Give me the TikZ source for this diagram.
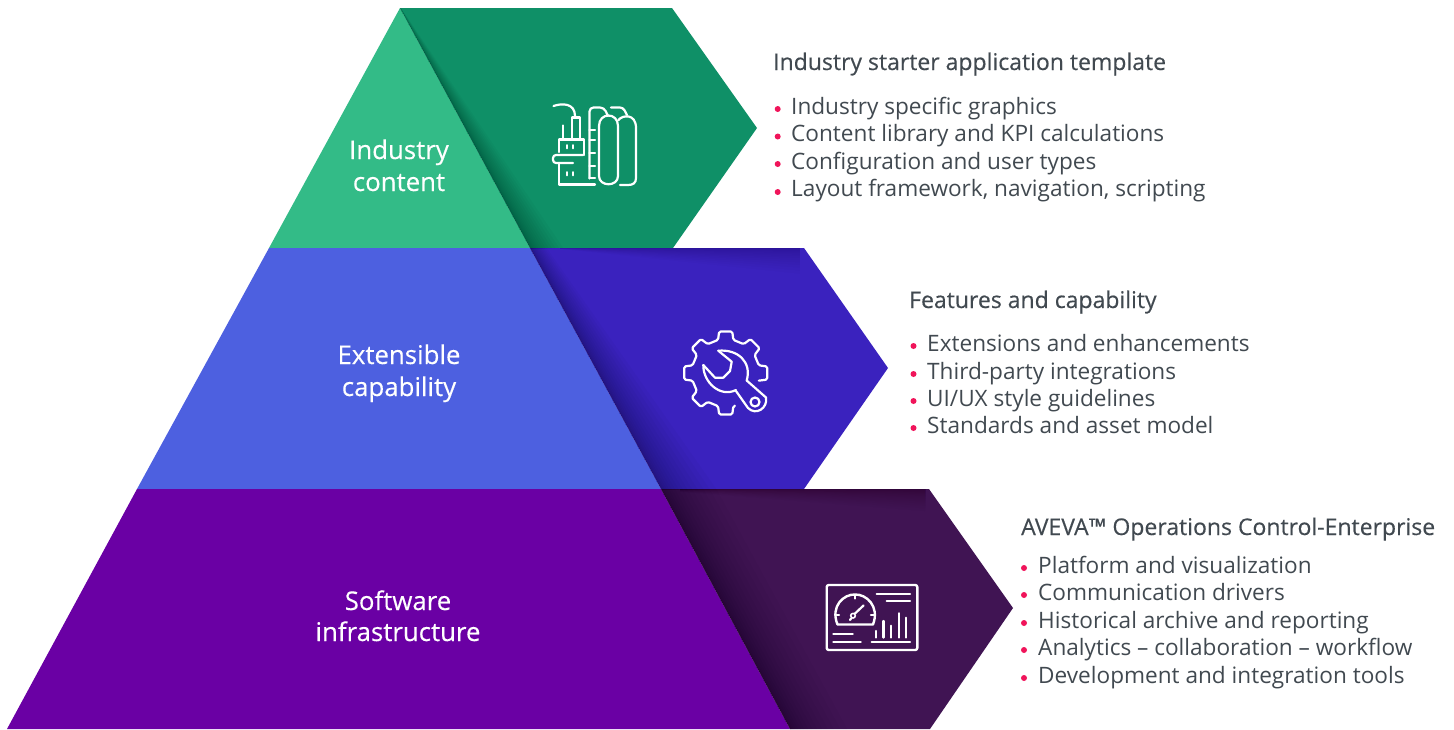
\documentclass[tikz,border=0pt]{standalone}
\usepackage{fontspec}
\setmainfont{Open Sans}
\newfontfamily\titlefont[FakeBold=0.35]{Open Sans}
\newfontfamily\labelfont[FakeBold=0.25]{Open Sans}
\usetikzlibrary{calc}
\definecolor{lgreen}{HTML}{33BB87}
\definecolor{dgreen}{HTML}{0F9067}
\definecolor{lblue}{HTML}{4D60E0}
\definecolor{dblue}{HTML}{3A22BE}
\definecolor{lpurple}{HTML}{6A00A4}
\definecolor{dpurple}{HTML}{401453}
\definecolor{txt}{HTML}{414950}
\definecolor{dot}{HTML}{F0145A}
\tikzset{
  pyrlabel/.style={anchor=base,text=white,font=\labelfont\fontsize{25.8}{30}\selectfont,inner sep=0pt},
  headline/.style={anchor=base west,text=txt,font=\titlefont\fontsize{23}{26}\selectfont,inner sep=0pt},
  item/.style={anchor=base west,text=txt,font=\fontsize{22.6}{27}\selectfont,inner sep=0pt},
  bullet/.style={circle,fill=dot,minimum size=6pt,inner sep=0pt},
  icon/.style={draw=white,line width=2.2pt,line cap=round,line join=round},
}
% #1 opacity step, #2 clip polygon, #3 A, #4 B, #5 offset at A, #6 offset at B
\newcommand\shadeQuad[6]{%
  \begin{scope}
    \clip #2;
    \foreach \t in {0.06,0.12,...,1.0}{
      \fill[black,opacity=#1] (#3) -- (#4) -- ($(#4)+\t*\t*(#6)$) -- ($(#3)+\t*\t*(#5)$) -- cycle;
    }
  \end{scope}}
\begin{document}
\begin{tikzpicture}[x=1pt,y=-1pt]
\useasboundingbox (0,0) rectangle (1454,729);
% pyramid
\fill[lgreen] (400,8) -- (269,248) -- (530,248) -- cycle;
\fill[dgreen] (400,8) -- (672,8) -- (757,128) -- (673,248) -- (530,248) -- cycle;
\fill[lblue] (269,248) -- (530,248) -- (661,489) -- (137,489) -- cycle;
\fill[dblue] (530,248) -- (804,248) -- (888,368) -- (804,489) -- (661,489) -- cycle;
\fill[lpurple] (137,489) -- (661,489) -- (790,729) -- (7,729) -- cycle;
\fill[dpurple] (661,489) -- (929,489) -- (1013,608) -- (930,729) -- (790,729) -- cycle;
% shadows
\shadeQuad{0.022}{(400,8) -- (672,8) -- (757,128) -- (673,248) -- (530,248) -- cycle}{400,8}{530,248}{1,0}{36,0}
\shadeQuad{0.022}{(530,248) -- (804,248) -- (888,368) -- (804,489) -- (661,489) -- cycle}{530,248}{661,489}{18,0}{60,0}
\shadeQuad{0.012}{(530,248) -- (804,248) -- (888,368) -- (804,489) -- (661,489) -- cycle}{560,248}{800,248}{0,1}{0,28}
\shadeQuad{0.022}{(661,489) -- (929,489) -- (1013,608) -- (930,729) -- (790,729) -- cycle}{661,489}{790,729}{60,0}{62,0}
\shadeQuad{0.016}{(661,489) -- (929,489) -- (1013,608) -- (930,729) -- (790,729) -- cycle}{680,489}{925,489}{0,3}{0,24}
% pyramid labels
\node[pyrlabel] (l1a) at (399,159) {Industry};
\node[pyrlabel] (l1b) at (399,191) {content};
\node[pyrlabel] (l2a) at (399,364) {Extensible};
\node[pyrlabel] (l2b) at (399,396) {capability};
\node[pyrlabel] (l3a) at (398,610) {Software};
\node[pyrlabel] (l3b) at (398,641) {infrastructure};
% text block 1
\node[headline] (t1) at (773,70) {Industry starter application template};
\node[item] (i11) at (791,114) {Industry specific graphics};
\node[item] (i12) at (791,141.7) {Content library and KPI calculations};
\node[item] (i13) at (791,169) {Configuration and user types};
\node[item] (i14) at (791,196.7) {Layout framework, navigation, scripting};
\foreach \y in {109,136.5,164,192}{\node[bullet] at (777.7,\y) {};}
% text block 2
\node[headline] (t2) at (909,308) {Features and capability};
\node[item] (i21) at (927,351) {Extensions and enhancements};
\node[item] (i22) at (927,379) {Third-party integrations};
\node[item] (i23) at (927,406) {UI/UX style guidelines};
\node[item] (i24) at (927,433) {Standards and asset model};
\foreach \y in {346,374,401,428}{\node[bullet] at (913.5,\y) {};}
% text block 3
\node[headline] (t3) at (1021,535) {AVEVA™ Operations Control-Enterprise};
\node[item] (i31) at (1038,573) {Platform and visualization};
\node[item] (i32) at (1038,600.7) {Communication drivers};
\node[item] (i33) at (1038,628) {Historical archive and reporting};
\node[item] (i34) at (1038,655.7) {Analytics – collaboration – workflow};
\node[item] (i35) at (1038,683) {Development and integration tools};
\foreach \y in {568,595,623,650,678}{\node[bullet] at (1024,\y) {};}
% factory icon
\draw[icon] (553.5,106) .. controls (562,103) and (575,103) .. (575,116);
\draw[icon] (572,138) -- (572,117.5) -- (580,117.5) -- (580,138);
\draw[icon] (563,125.5) -- (563,139);
\draw[icon] (559,152) -- (559,139.5) -- (584,139.5) -- (584,155);
\draw[icon,rounded corners=3pt] (583,155) -- (553,155) -- (553,163) -- (573,163);
\draw[icon] (559,163) -- (559,184.5) -- (595,184.5);
\draw[icon,line width=1.6pt] (567,145) -- (567,148.5) (573,145) -- (573,148.5) (567,172) -- (567,175.5) (573,172) -- (573,175.5);
\draw[icon,rounded corners=4pt] (589.5,178.5) -- (589.5,107.5) -- (604,107.5) -- (608,116);
\draw[icon,rounded corners=3pt] (611,107.5) -- (623,107.5) -- (627,115);
\draw[icon] (589.5,130) -- (595,130) (589.5,140) -- (595,140) (589.5,153) -- (595,153) (589.5,166) -- (595,166) (589.5,178) -- (595,178);
\draw[icon] (599,176) -- (599,126) .. controls (599,112) and (618,112) .. (618,126) -- (618,176) .. controls (618,187) and (599,187) .. (599,176) -- cycle;
\draw[icon] (618.5,120) .. controls (622,115) and (636,113) .. (636,128) -- (636,178) .. controls (636,183) and (633,185) .. (628,185) -- (620,185);
% gear and wrench icon
\begin{scope}[shift={(725.7,373)}]
\draw[icon,rounded corners=1.5pt] (-75:34pt)
  \foreach \a in {-90,-135,-180,-225,-270,-315,-360}{
    -- ({\a+13}:34pt) -- ({\a+9}:42pt) -- ({\a-9}:42pt) -- ({\a-13}:34pt)
  };
\end{scope}
\draw[icon] (718.3,350.7) -- (731.7,361.7) -- (730,371) -- (723.3,377.7) -- (715,377.7) -- (703.3,365)
  .. controls (703,382) and (720,398) .. (736,390);
\draw[icon] (746.7,380.5) .. controls (752,362) and (738,349) .. (718.3,350.7);
\draw[icon] (736,391) -- (748,408) .. controls (756,416) and (768,408) .. (766,397.5) -- (746.7,380.5);
\draw[icon] (755,402) circle[radius=4.5];
% dashboard icon
\draw[icon,line width=2.4pt,rounded corners=2pt] (826.7,585) rectangle (917.3,650);
\draw[icon] (876.7,594) -- (910,594) (886.7,600.7) -- (910,600.7);
\draw[icon,line width=2.4pt] (837.5,624.5) -- (873,624.5) .. controls (880,606) and (866,594) .. (855,594.5) .. controls (844,594) and (830,606) .. (837.5,624.5) -- cycle;
\draw[icon] (855,595) -- (855,598.5) (836,615) -- (839,615) (871,615) -- (874,615);
\draw[icon] (855,613.5) -- (863.5,605.5) (851,618.5) -- (850,620);
\draw[icon,line width=1.6pt] (853,615.7) circle[radius=2.3];
\draw[icon,line width=2.4pt] (876,637.5) -- (876,631) (883.3,637.5) -- (883.3,621) (891,637.5) -- (891,625.7) (898.7,637.5) -- (898.7,613.3) (906,637.5) -- (906,617.7);
\draw[icon] (871.7,641.7) -- (910,641.7) (833.3,634.3) -- (852.7,634.3) (833.3,641.7) -- (860.7,641.7);
\end{tikzpicture}
\end{document}
